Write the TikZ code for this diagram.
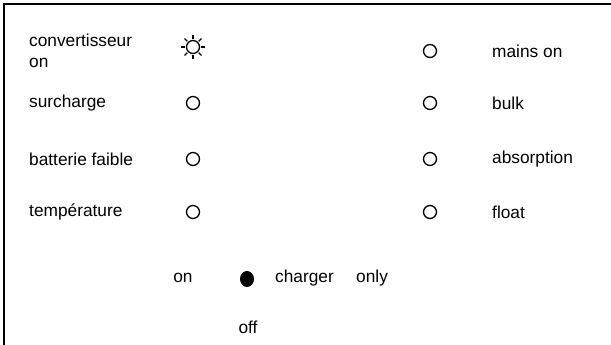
\documentclass[tikz,border=0pt]{standalone}
\usepackage{fontspec}
\usetikzlibrary{shapes.geometric}
\setmainfont{Liberation Sans}
\begin{document}
\begin{tikzpicture}[x=1pt,y=-1pt,
  lbl/.style={anchor=west,inner sep=0pt,font=\fontsize{17.3}{21}\selectfont},
  ctr/.style={anchor=center,inner sep=0pt,font=\fontsize{17.3}{21}\selectfont},
  led/.style={draw,circle,line width=1.3pt,minimum size=13pt,inner sep=0pt},
  ledon/.style={fill,ellipse,minimum width=14pt,minimum height=16pt,inner sep=0pt},
  frame/.style={line width=1.8pt}]
\useasboundingbox (0,0) rectangle (611,345);
\coordinate (fb) at (4,346);
\coordinate (ftl) at (4,4);
\coordinate (fr) at (612,4);
\draw[frame] (fb) -- (ftl) -- (fr);
% left labels
\node[lbl,align=left] (conv) at (29,51) {convertisseur\\on};
\node[lbl] (surch) at (29,103) {surcharge};
\node[lbl] (batt) at (29,159) {batterie faible};
\node[lbl] (temp) at (29,212) {température};
% sun
\node[led,minimum size=13pt] (sun) at (193,47) {};
\foreach \a in {0,45,...,315}
  \draw[line width=1.3pt] (sun.center) ++(\a:8) -- ++(\a:4);
\node[led] (l2) at (193,103) {};
\node[led] (l3) at (193,159) {};
\node[led] (l4) at (193,212) {};
% right
\node[led] (r1) at (430,51) {};
\node[led] (r2) at (430,103) {};
\node[led] (r3) at (430,159) {};
\node[led] (r4) at (430,212) {};
\node[lbl] (mains) at (492,51) {mains on};
\node[lbl] (bulk) at (492,103) {bulk};
\node[lbl] (abs) at (492,159) {absorption};
\node[lbl] (float) at (492,212) {float};
% bottom
\node[ctr] (on) at (183,278) {on};
\node[ledon] (sw) at (247,279) {};
\node[lbl] (charger) at (275,278) {charger};
\node[lbl] (only) at (356,278) {only};
\node[ctr] (off) at (248,327) {off};
\end{tikzpicture}
\end{document}
